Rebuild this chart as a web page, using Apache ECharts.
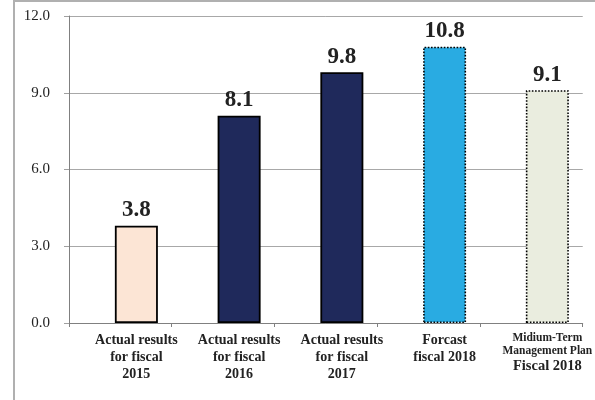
<!DOCTYPE html>
<html>
<head>
<meta charset="utf-8">
<script src="https://cdn.jsdelivr.net/npm/echarts@6/dist/echarts.min.js"></script>
<style>
  html, body { margin: 0; padding: 0; background: #fff; }
  #chart { width: 595px; height: 400px; }
</style>
</head>
<body>
<div id="chart"></div>
<script>
// Category labels (last one uses rich text for its smaller first lines)
const categories = [
  'Actual results\nfor fiscal\n2015',
  'Actual results\nfor fiscal\n2016',
  'Actual results\nfor fiscal\n2017',
  'Forcast\nfiscal 2018',
  '{s|Midium-Term}\n{s|Management Plan}\n{b|Fiscal 2018}'
];
const values = [3.8, 8.1, 9.8, 10.8, 9.1];
const barColors = ['#fce5d5', '#1f295b', '#1f295b', '#29abe2', '#eaeddf'];
const borderTypes = ['solid', 'solid', 'solid', 'dotted', 'dotted'];
const yTicks = [0, 3, 6, 9, 12];

const serif = '"Liberation Serif", "Times New Roman", serif';

const chart = echarts.init(document.getElementById('chart'), null, { renderer: 'canvas' });

chart.setOption({
  animation: false,
  backgroundColor: '#fff',
  graphic: [{
    type: 'rect',
    shape: { x: 14, y: 1, width: 620, height: 430 },
    style: { fill: 'none', stroke: '#b0b0b0', lineWidth: 2 },
    silent: true
  }],
  grid: { left: 69, right: 10, top: 16, bottom: 77 },
  xAxis: {
    type: 'category',
    data: categories,
    axisLine: { lineStyle: { color: '#808080', width: 1 } },
    axisTick: { show: true, length: 4, inside: false, lineStyle: { color: '#808080' } },
    axisLabel: {
      interval: 0,
      margin: 9,
      padding: [0, 0, 0, 32],
      fontFamily: serif,
      fontWeight: 'bold',
      fontSize: 14,
      lineHeight: 17,
      color: '#222',
      rich: {
        s: { fontFamily: serif, fontWeight: 'bold', fontSize: 11.5, lineHeight: 13, color: '#222' },
        b: { fontFamily: serif, fontWeight: 'bold', fontSize: 14.5, lineHeight: 17, color: '#222' }
      }
    }
  },
  yAxis: {
    type: 'value',
    min: yTicks[0],
    max: yTicks[yTicks.length - 1],
    interval: 3,
    axisLine: { show: true, lineStyle: { color: '#808080', width: 1 } },
    axisTick: { show: true, length: 5, lineStyle: { color: '#a0a0a0' } },
    splitLine: { show: true, lineStyle: { color: '#a8a8a8', width: 1 } },
    axisLabel: {
      margin: 19,
      fontFamily: serif,
      fontSize: 15,
      color: '#222',
      formatter: v => v.toFixed(1)
    }
  },
  series: [
    {
      // empty slot that pushes the drawn bars right of each category centre
      name: 'spacer',
      type: 'bar',
      barWidth: 43,
      barGap: '-25.6%',
      data: values.map(() => '-'),
      silent: true
    },
    {
      name: 'value',
      type: 'bar',
      barWidth: 43,
      barGap: '-25.6%',
      data: values.map((v, i) => ({
        value: v,
        itemStyle: {
          color: barColors[i],
          borderColor: '#000',
          borderWidth: borderTypes[i] === 'dotted' ? 1.6 : 1.8,
          borderType: borderTypes[i]
        }
      })),
      label: {
        show: true,
        position: 'top',
        distance: 4,
        fontFamily: serif,
        fontWeight: 'bold',
        fontSize: 23,
        color: '#222',
        formatter: p => p.value.toFixed(1)
      }
    }
  ]
});
</script>
</body>
</html>
